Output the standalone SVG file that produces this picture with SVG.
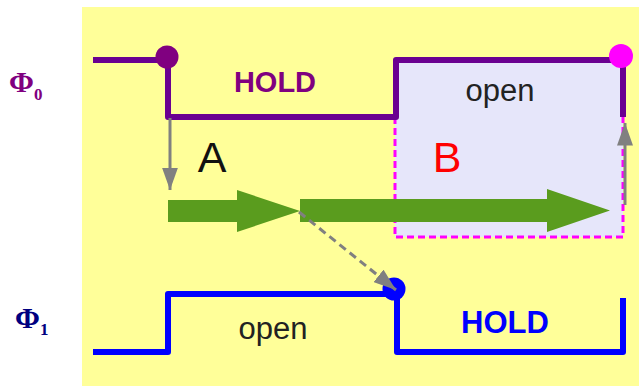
<svg xmlns="http://www.w3.org/2000/svg" width="639" height="386" viewBox="0 0 639 386">
<style>
.sig0{fill:none;stroke:#6a0091;stroke-width:6;stroke-linejoin:round}
.sig1{fill:none;stroke:#0000ff;stroke-width:6;stroke-linejoin:round}
.dash{fill:none;stroke:#ff00ff;stroke-width:3;stroke-dasharray:7,4}
.grey{fill:none;stroke:#808080;stroke-width:3}
.lbl{font-family:"Liberation Sans",Arial,sans-serif;text-anchor:middle}
.phi{font-family:"Liberation Serif","Times New Roman",serif;font-weight:bold}
.green{fill:#5a9c1e}
</style>
<defs>
<marker id="ah" viewBox="0 0 14 10" refX="14" refY="5" markerWidth="7.5" markerHeight="5.4" orient="auto" markerUnits="strokeWidth">
<path d="M0,0 L14,5 L0,10 z" fill="#808080"/>
</marker>
</defs>
<rect x="82" y="7" width="557" height="379" fill="#ffff99"/>
<g id="regionB">
<rect x="395" y="60" width="228" height="177" fill="#e6e6fa"/>
<path class="dash" d="M395,117 V237 H623 V117"/>
</g>
<g id="phi0">
<text class="phi" x="9" y="92" font-size="30" fill="#800080">Φ<tspan font-size="17" dy="8">0</tspan></text>
<path class="sig0" d="M93,60 H168 V117 H396 V60 H623 V117"/>
<circle cx="167" cy="57" r="11.5" fill="#800080"/>
<circle cx="621" cy="56" r="12" fill="#ff00ff"/>
<text class="lbl" x="275" y="92" font-size="29" font-weight="bold" fill="#800080">HOLD</text>
<text class="lbl" x="500" y="101" font-size="31" fill="#222222">open</text>
</g>
<g id="phi1">
<text class="phi" x="15" y="328" font-size="30" fill="#000080">Φ<tspan font-size="17" dy="7">1</tspan></text>
<path class="sig1" d="M93,352 H168 V294 H397 V352 H623 V298"/>
<circle cx="394" cy="289" r="11.5" fill="#0000ff"/>
<text class="lbl" x="273" y="339" font-size="31" fill="#222222">open</text>
<text class="lbl" x="505" y="333" font-size="31" font-weight="bold" fill="#0000ff">HOLD</text>
</g>
<g id="labelA"><text class="lbl" x="212" y="172" font-size="43" fill="#111111">A</text></g>
<g id="labelB"><text class="lbl" x="447" y="172" font-size="43" fill="#ff0000">B</text></g>
<g id="connectors">
<path class="green" d="M168,200 H237 V190 L300,211 L237,232 V222 H168 z"/>
<path class="green" d="M300,199 H547 V189 L610,210.5 L547,232 V222 H300 z"/>
<path class="grey" d="M170,118 V190" marker-end="url(#ah)"/>
<path class="grey" d="M625,205 V123" marker-end="url(#ah)"/>
<path class="grey" d="M299,212 L396,290" stroke-dasharray="8,5" marker-end="url(#ah)"/>
</g>
</svg>
